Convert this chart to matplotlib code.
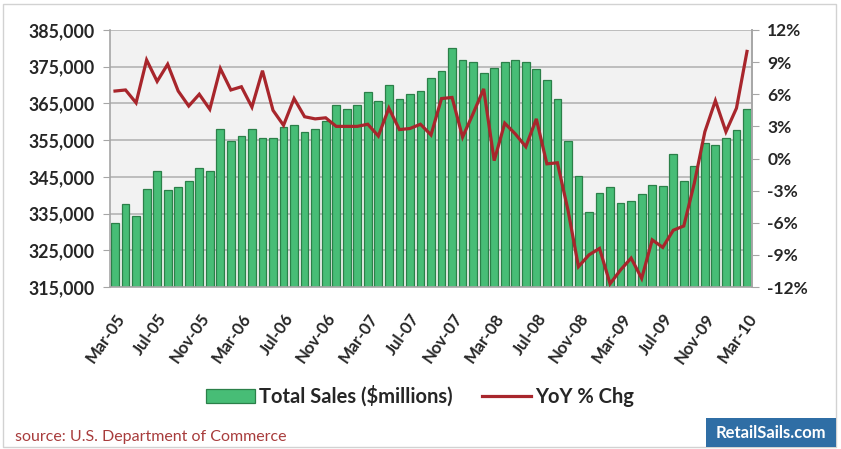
import matplotlib
matplotlib.use("Agg")
import matplotlib.pyplot as plt
import pandas as pd
from matplotlib.patches import Rectangle, Patch
from matplotlib.lines import Line2D
from matplotlib.ticker import FuncFormatter

# ---------------- data ----------------
months = pd.date_range("2005-03-01", periods=61, freq="MS")
month_labels = [d.strftime("%b-%y") for d in months]

total_sales = [
    332300, 337700, 334400, 341800, 346600, 341500, 342300, 343800, 347300, 346600,
    358100, 354800, 356200, 358100, 355600, 355600, 358500, 359000, 357200, 358100,
    360100, 364700, 363400, 364700, 368100, 365700, 370000, 366200, 367700, 368500,
    371800, 373900, 380000, 376700, 376200, 373400, 374700, 376200, 376700, 376200,
    374300, 371400, 366200, 354900, 345200, 335500, 340700, 342300, 337800, 338400,
    340200, 342900, 342500, 351100, 343800, 347900, 354300, 353800, 355700, 357700,
    363500,
]

yoy_pct = [
    6.3, 6.4, 5.2, 9.2, 7.2, 8.8, 6.3, 4.9, 6.0, 4.6,
    8.4, 6.4, 6.7, 4.8, 8.2, 4.5, 3.1, 5.6, 3.9, 3.7,
    3.8, 3.0, 3.0, 3.0, 3.2, 2.1, 4.7, 2.7, 2.8, 3.2,
    2.2, 5.6, 5.7, 2.0, 4.2, 6.5, -0.2, 3.3, 2.3, 1.1,
    3.7, -0.5, -0.4, -4.8, -10.1, -9.0, -8.4, -11.7, -10.4, -9.3,
    -11.2, -7.6, -8.3, -6.7, -6.3, -2.3, 2.5, 5.4, 2.5, 4.7,
    10.0,
]

left_ticks = [315000, 325000, 335000, 345000, 355000, 365000, 375000, 385000]
right_ticks = [-12, -9, -6, -3, 0, 3, 6, 9, 12]
label_step = 4

# ---------------- style ----------------
plt.rcParams['font.family'] = ['Lato', 'DejaVu Sans']
BAR_FILL = '#47bd76'
BAR_EDGE = '#2b8049'
LINE_COL = '#a8262c'
TXT = '#262626'
GRID = '#bdbdbd'
SPINE = '#a6a6a6'

W, H = 841, 449
fig = plt.figure(figsize=(W / 100, H / 100), dpi=100)
fig.patch.set_facecolor('white')

x0, x1, ytop, ybot = 110, 752, 30, 287
ax = fig.add_axes([x0 / W, 1 - ybot / H, (x1 - x0) / W, (ybot - ytop) / H])
ax.set_facecolor('#f2f2f2')

xs = list(range(len(total_sales)))
ax.bar(xs, total_sales, width=0.74, color=BAR_FILL, edgecolor=BAR_EDGE,
       linewidth=0.9, zorder=2, bottom=0)
ax.set_ylim(315000, 385000)
ax.set_xlim(-0.475, len(xs) - 1 + 0.475)
ax.set_yticks(left_ticks)
ax.yaxis.set_major_formatter(FuncFormatter(lambda v, p: f"{int(v):,}"))
ax.yaxis.grid(True, color=GRID, linewidth=1.4, zorder=0)
ax.set_axisbelow(True)

tick_pos = xs[::label_step]
ax.set_xticks(tick_pos)
ax.set_xticklabels([month_labels[i] for i in tick_pos], rotation=55,
                   ha='right', va='top', rotation_mode='anchor',
                   fontsize=12, fontweight='bold', color=TXT)
ax.tick_params(axis='x', length=0, pad=17)
ax.tick_params(axis='y', length=5, color=SPINE, pad=6, labelsize=12.8,
               labelcolor=TXT)
for lbl in ax.get_yticklabels():
    lbl.set_fontweight('bold')

for s in ['top']:
    ax.spines[s].set_visible(False)
for s in ['left', 'bottom', 'right']:
    ax.spines[s].set_color(SPINE)
    ax.spines[s].set_linewidth(1.2)

ax2 = ax.twinx()
ax2.plot(xs, yoy_pct, color=LINE_COL, linewidth=2.3, zorder=5,
         solid_joinstyle='miter')
ax2.set_ylim(-12, 12)
ax2.set_yticks(right_ticks)
ax2.yaxis.set_major_formatter(FuncFormatter(lambda v, p: f"{int(v)}%"))
ax2.tick_params(axis='y', length=5, color=SPINE, pad=6, labelsize=12.5,
                labelcolor=TXT)
for lbl in ax2.get_yticklabels():
    lbl.set_fontweight('bold')
for s in ['top', 'left', 'bottom']:
    ax2.spines[s].set_visible(False)
ax2.spines['right'].set_color(SPINE)
ax2.spines['right'].set_linewidth(1.2)

# legend
handles = [Patch(facecolor=BAR_FILL, edgecolor=BAR_EDGE, linewidth=0.9),
           Line2D([0], [0], color=LINE_COL, linewidth=2.3)]
fig.legend(handles, ['Total Sales ($millions)', 'YoY % Chg'],
           loc='center', bbox_to_anchor=(420 / W, 1 - 396 / H), ncol=2,
           frameon=False, handlelength=2.4, handleheight=0.7,
           handletextpad=0.2, columnspacing=1.5,
           prop={'family': ['Lato', 'DejaVu Sans'], 'weight': 'bold', 'size': 14.5})
for t in fig.legends[0].get_texts():
    t.set_color(TXT)

# source note
fig.text(15 / W, 1 - 437 / H, 'source: U.S. Department of Commerce',
         color='#a83c3c', fontsize=11.5, va='center', ha='left')

# RetailSails badge
fig.patches.append(Rectangle((706 / W, 1 - 447 / H), 130 / W, 29 / H,
                             transform=fig.transFigure, facecolor='#2f6ea5',
                             edgecolor='none', zorder=3))
fig.text(771 / W, 1 - 433 / H, 'RetailSails.com', color='white',
         fontsize=12, fontweight='bold', ha='center', va='center', zorder=4)

# outer frame
fig.patches.append(Rectangle((3 / W, 2 / H), 833 / W, 443 / H,
                             transform=fig.transFigure, facecolor='none',
                             edgecolor='#d2d2d2', linewidth=1.0, zorder=1))

fig.savefig('out.png', dpi=100)
